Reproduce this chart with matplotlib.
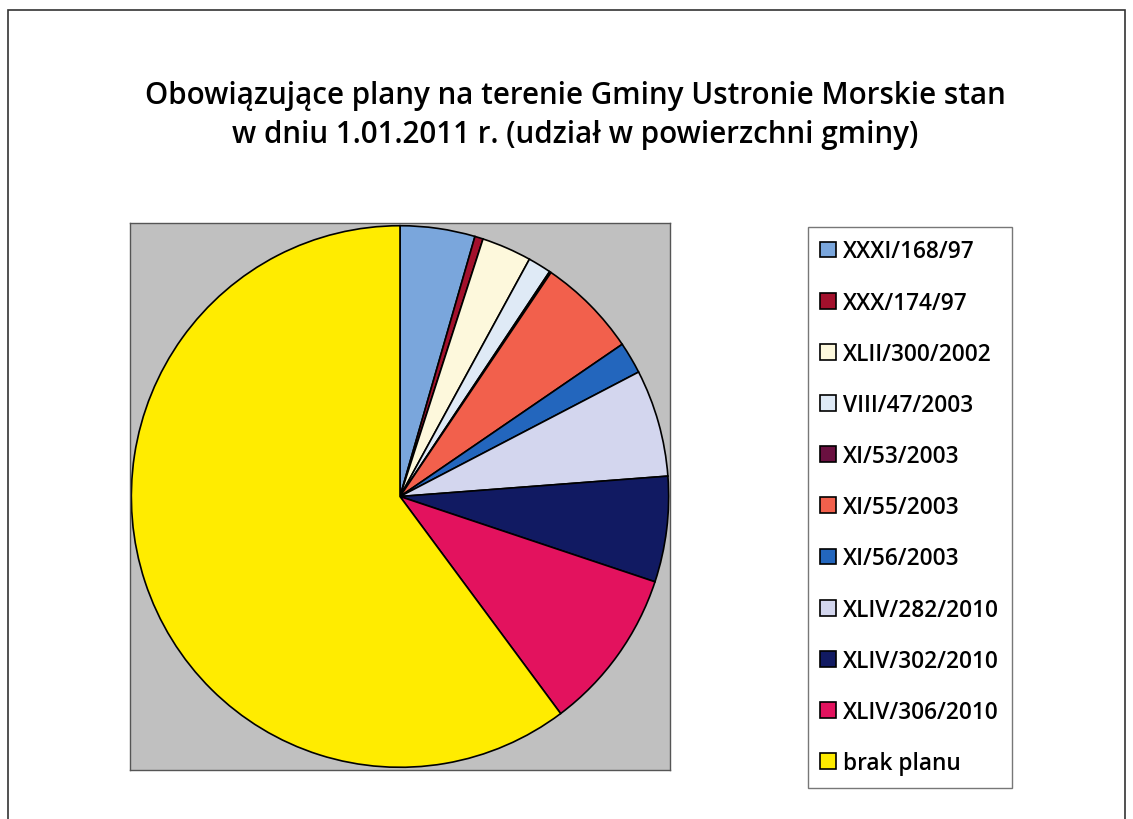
import matplotlib
matplotlib.use('Agg')
import matplotlib.pyplot as plt
from matplotlib.patches import Rectangle

# Data (share of municipality area, %)
labels = ['XXXI/168/97', 'XXX/174/97', 'XLII/300/2002', 'VIII/47/2003',
          'XI/53/2003', 'XI/55/2003', 'XI/56/2003', 'XLIV/282/2010',
          'XLIV/302/2010', 'XLIV/306/2010', 'brak planu']
shares = [4.5, 0.5, 3.0, 1.4, 0.1, 6.0, 1.9, 6.4, 6.3, 9.7, 60.2]
colors = ['#7aa6dc', '#a3102c', '#fdf8dc', '#dfeaf6', '#6a1040', '#f2604c',
          '#2366bd', '#d3d6ee', '#111a62', '#e3125e', '#ffec00']

plt.rcParams['font.family'] = ['Open Sans', 'DejaVu Sans']

fig = plt.figure(figsize=(11.33, 8.2), dpi=100)

# outer frame
fig.patches.append(Rectangle((0.007, -0.01), 0.986, 0.996, transform=fig.transFigure,
                             fill=False, edgecolor='#333333', linewidth=1.2))

fig.text(0.508, 0.883, 'Obowiązujące plany na terenie Gminy Ustronie Morskie stan',
         ha='center', va='center', fontsize=21.3, fontweight='semibold')
fig.text(0.508, 0.835, 'w dniu 1.01.2011 r. (udział w powierzchni gminy)',
         ha='center', va='center', fontsize=21.3, fontweight='semibold')

# plot area: x 130-670, y 224-771 px
ax = fig.add_axes([130 / 1133, 1 - 771 / 820, 540 / 1133, 547 / 820])
wedges, _ = ax.pie(shares, colors=colors, startangle=90, counterclock=False,
                   radius=1.0,
                   wedgeprops=dict(edgecolor='black', linewidth=1.2))
ax.set_frame_on(True)
ax.set_facecolor('#c0c0c0')
ax.patch.set_visible(True)
ax.set_xlim(-1.005, 1.005)
ax.set_ylim(-1.01, 1.01)
ax.set_aspect('auto')
ax.set_xticks([])
ax.set_yticks([])
for s in ax.spines.values():
    s.set_visible(True)
    s.set_edgecolor('#555555')
    s.set_linewidth(1.0)

leg = fig.legend(wedges, labels, loc='upper left',
                 bbox_to_anchor=(808 / 1133, 1 - 228 / 820),
                 fontsize=16.3, frameon=True, fancybox=False, edgecolor='#555555',
                 handlelength=0.7, handleheight=0.7, handletextpad=0.3,
                 labelspacing=1.2, borderpad=0.55, borderaxespad=0)
leg.get_frame().set_linewidth(1.0)
for t in leg.get_texts():
    t.set_fontweight('semibold')

fig.savefig('out.png', dpi=100)
